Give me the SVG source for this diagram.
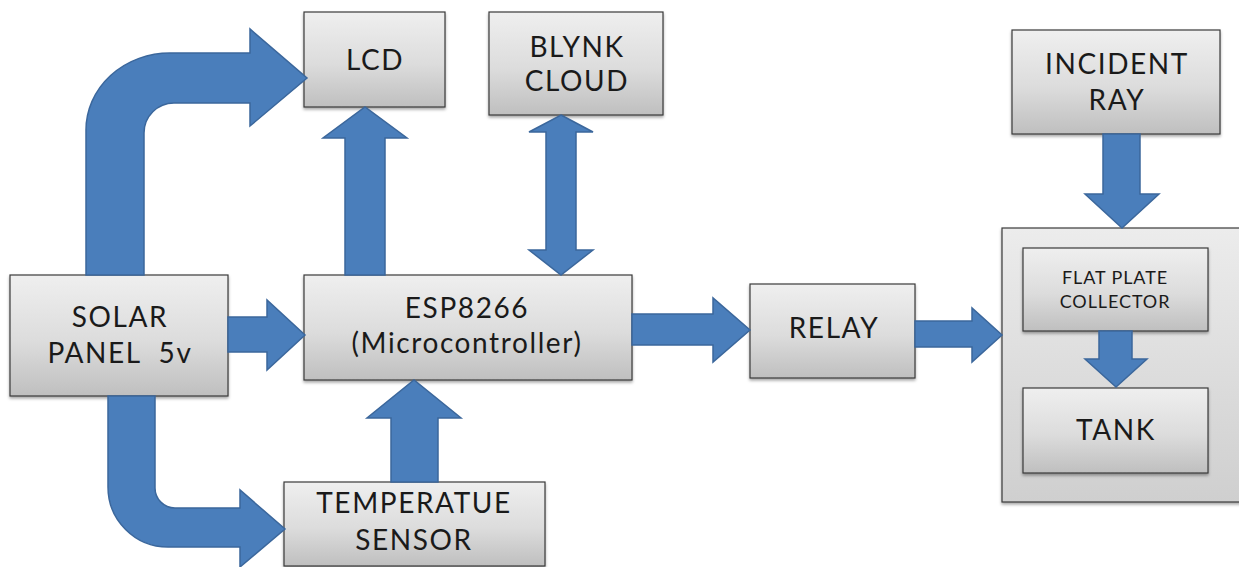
<svg xmlns="http://www.w3.org/2000/svg" width="1239" height="567" viewBox="0 0 1239 567">
<defs>
<linearGradient id="g" x1="0" y1="0" x2="0" y2="1">
<stop offset="0" stop-color="#efefef"/>
<stop offset="0.55" stop-color="#dcdcdc"/>
<stop offset="1" stop-color="#bfbfbf"/>
</linearGradient>
<linearGradient id="gc" x1="0" y1="0" x2="0" y2="1">
<stop offset="0" stop-color="#ececec"/>
<stop offset="1" stop-color="#cfcfcf"/>
</linearGradient>
<filter id="sh" x="-5%" y="-5%" width="115%" height="120%">
<feDropShadow dx="0" dy="2" stdDeviation="1.5" flood-color="#000" flood-opacity="0.35"/>
</filter>
</defs>
<style>
.box{fill:url(#g);stroke:#3a3a3a;stroke-width:1.2;filter:url(#sh)}
.cont{fill:url(#gc);stroke:#3a3a3a;stroke-width:1.2;filter:url(#sh)}
.t{font-family:Lato,"Open Sans",sans-serif;font-size:28px;letter-spacing:1.6px;fill:#1a1a1a;text-anchor:middle}
.s{font-size:18px;letter-spacing:0.9px}
.arr{fill:#4a7ebb;stroke:#3b679c;stroke-width:1.5;stroke-linejoin:miter}
</style>
<rect width="1239" height="567" fill="#ffffff"/>

<g id="container">
<rect class="cont" x="1002" y="228" width="250" height="274"/>
</g>

<g id="lcd">
<rect class="box" x="304" y="12" width="141" height="95"/>
<text class="t" x="375" y="70">LCD</text>
</g>
<g id="blynk">
<rect class="box" x="489" y="12" width="174" height="103"/>
<text class="t" x="577" y="57">BLYNK</text>
<text class="t" x="577" y="91">CLOUD</text>
</g>
<g id="incident">
<rect class="box" x="1012" y="30" width="208" height="104"/>
<text class="t" x="1117" y="74">INCIDENT</text>
<text class="t" x="1117" y="110">RAY</text>
</g>
<g id="solar">
<rect class="box" x="10" y="275" width="218" height="121"/>
<text class="t" x="120" y="327">SOLAR</text>
<text class="t" x="120" y="363" xml:space="preserve">PANEL  5v</text>
</g>
<g id="esp">
<rect class="box" x="304" y="275" width="328" height="105"/>
<text class="t" x="467" y="318">ESP8266</text>
<text class="t" x="467" y="353">(Microcontroller)</text>
</g>
<g id="relay">
<rect class="box" x="750" y="284" width="165" height="94"/>
<text class="t" x="834" y="338">RELAY</text>
</g>
<g id="flatplate">
<rect class="box" x="1023" y="248" width="185" height="83"/>
<text class="t s" x="1115" y="284">FLAT PLATE</text>
<text class="t s" x="1115" y="308">COLLECTOR</text>
</g>
<g id="tank">
<rect class="box" x="1023" y="388" width="185" height="85"/>
<text class="t" x="1116" y="440">TANK</text>
</g>
<g id="temp">
<rect class="box" x="284" y="482" width="261" height="84"/>
<text class="t" x="414" y="513">TEMPERATUE</text>
<text class="t" x="414" y="550">SENSOR</text>
</g>

<g id="connectors">
<path class="arr" d="M 86 275 L 86 130 A 84 77 0 0 1 170 53 L 250 53 L 250 29 L 307 78 L 250 126 L 250 103 L 174 103 A 30 30 0 0 0 144 133 L 144 275 Z"/>
<path class="arr" d="M 345 275 L 345 138 L 323 138 L 365 107 L 407 138 L 385 138 L 385 275 Z"/>
<path class="arr" d="M 561 115 L 593 132 L 576 132 L 576 250 L 593 250 L 561 275 L 529 250 L 546 250 L 546 132 L 529 132 Z"/>
<path class="arr" d="M 228 317 L 267 317 L 267 300 L 305 335 L 267 370 L 267 352 L 228 352 Z"/>
<path class="arr" d="M 108 396 L 108 487 A 60 60 0 0 0 168 547 L 240 547 L 240 567 L 285 529 L 240 490 L 240 508 L 175 508 A 20 20 0 0 1 155 488 L 155 396 Z"/>
<path class="arr" d="M 391 482 L 391 418 L 367 418 L 414 380 L 461 418 L 438 418 L 438 482 Z"/>
<path class="arr" d="M 632 314 L 713 314 L 713 298 L 750 330 L 713 362 L 713 345 L 632 345 Z"/>
<path class="arr" d="M 915 321 L 972 321 L 972 308 L 1002 335 L 972 362 L 972 347 L 915 347 Z"/>
<path class="arr" d="M 1103 134 L 1140 134 L 1140 194 L 1159 194 L 1122 228 L 1085 194 L 1103 194 Z"/>
<path class="arr" d="M 1099 331 L 1132 331 L 1132 359 L 1147 359 L 1116 387 L 1085 359 L 1099 359 Z"/>
</g>
</svg>
